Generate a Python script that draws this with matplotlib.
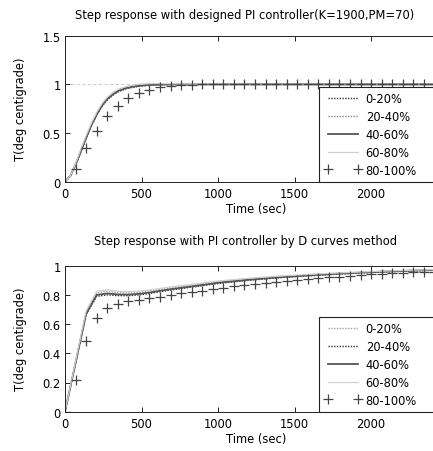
import numpy as np
import matplotlib
matplotlib.use("Agg")
import matplotlib.pyplot as plt
from matplotlib.ticker import FormatStrFormatter

plt.rcParams['font.family'] = ['DejaVu Sans']

labels = ["0-20%", "20-40%", "40-60%", "60-80%", "80-100%"]

# ---------- top panel: designed PI controller ----------
t_top = [0, 35, 70, 105, 140, 175, 210, 245, 280, 315, 350, 400, 450, 500,
         550, 600, 700, 800, 1000, 1500, 2500]
top_0_20 = [0, 0.06, 0.17, 0.31, 0.45, 0.58, 0.69, 0.78, 0.845, 0.89, 0.925,
            0.955, 0.972, 0.983, 0.99, 0.995, 0.999, 1.0, 1.0, 1.0, 1.0]
top_20_40 = [0, 0.06, 0.18, 0.32, 0.46, 0.59, 0.70, 0.79, 0.85, 0.895, 0.93,
             0.96, 0.976, 0.986, 0.992, 0.996, 1.0, 1.0, 1.0, 1.0, 1.0]
top_40_60 = [0, 0.06, 0.18, 0.32, 0.46, 0.59, 0.70, 0.79, 0.855, 0.90, 0.935,
             0.962, 0.978, 0.988, 0.994, 0.997, 1.0, 1.0, 1.0, 1.0, 1.0]
top_60_80 = [0, 0.06, 0.19, 0.34, 0.48, 0.61, 0.72, 0.81, 0.875, 0.92, 0.952,
             0.978, 0.995, 1.004, 1.008, 1.009, 1.007, 1.004, 1.001, 1.0, 1.0]
t_mark = [0, 69, 138, 207, 276, 345, 414, 483, 552, 621, 690, 759, 828, 897,
          966, 1035, 1104, 1173, 1242, 1311, 1380, 1449, 1518, 1587, 1656,
          1725, 1794, 1863, 1932, 2001, 2070, 2139, 2208, 2277, 2346, 2415, 2484]
top_80_100 = [0, 0.135, 0.345, 0.525, 0.67, 0.78, 0.855, 0.91, 0.945, 0.968,
              0.983, 0.993, 0.998, 1.0, 1.0, 1.0, 1.0, 1.0, 1.0, 1.0, 1.0,
              1.0, 1.0, 1.0, 1.0, 1.0, 1.0, 1.0, 1.0, 1.0, 1.0, 1.0, 1.0,
              1.0, 1.0, 1.0, 1.0]
setpoint = 1.0

# ---------- bottom panel: D curves method ----------
t_bot = [0, 69, 138, 207, 276, 345, 414, 483, 552, 621, 690, 828, 1000, 1200,
         1400, 1600, 1800, 2000, 2200, 2400, 2500]
bot_0_20 = [0, 0.34, 0.68, 0.815, 0.825, 0.815, 0.813, 0.818, 0.827, 0.838,
            0.848, 0.866, 0.89, 0.91, 0.925, 0.938, 0.949, 0.958, 0.965, 0.972, 0.975]
bot_20_40 = [0, 0.33, 0.665, 0.79, 0.80, 0.795, 0.795, 0.80, 0.81, 0.822,
             0.833, 0.853, 0.878, 0.90, 0.917, 0.931, 0.943, 0.953, 0.961, 0.968, 0.971]
bot_40_60 = [0, 0.335, 0.67, 0.80, 0.81, 0.803, 0.802, 0.807, 0.816, 0.828,
             0.839, 0.858, 0.883, 0.904, 0.921, 0.934, 0.946, 0.956, 0.964, 0.971, 0.974]
bot_60_80 = [0, 0.345, 0.69, 0.825, 0.835, 0.825, 0.822, 0.826, 0.834, 0.845,
             0.855, 0.872, 0.895, 0.914, 0.929, 0.941, 0.951, 0.960, 0.967, 0.973, 0.976]
bot_80_100 = [0, 0.217, 0.486, 0.645, 0.71, 0.737, 0.755, 0.766, 0.777, 0.788,
              0.799, 0.81, 0.82, 0.83, 0.84, 0.85, 0.858, 0.866, 0.874, 0.882,
              0.889, 0.896, 0.903, 0.91, 0.916, 0.921, 0.926, 0.931, 0.936,
              0.94, 0.944, 0.948, 0.951, 0.954, 0.957, 0.96, 0.962]

W, H = 433, 452
fig = plt.figure(figsize=(W / 100, H / 100), dpi=100)

ax_w = 382.5 / W
ax1 = fig.add_axes([65 / W, 1 - 182.7 / H, ax_w, (182.7 - 36.7) / H])
ax2 = fig.add_axes([65 / W, 1 - 412.7 / H, ax_w, (412.7 - 266.7) / H])

FS = 8.3
edge = '#222222'
tcol = '#000000'

def style(ax, ylim, yticks):
    ax.set_xlim(0, 2500)
    ax.set_ylim(*ylim)
    ax.set_xticks([0, 500, 1000, 1500, 2000])
    ax.set_yticks(yticks)
    ax.yaxis.set_major_formatter(FormatStrFormatter('%g'))
    ax.tick_params(direction='in', length=3.5, width=0.6, top=True, right=True,
                   labelsize=FS, colors=tcol, pad=3)
    ax.tick_params(axis='x', pad=4)
    for s in ax.spines.values():
        s.set_color(edge)
        s.set_linewidth(0.7)
    ax.set_xlabel('Time (sec)', fontsize=FS, labelpad=1, color=tcol)
    ax.set_ylabel('T(deg centigrade)', fontsize=FS, labelpad=11, color=tcol)

def legend(ax, handles):
    x0 = (319 - 65) / 382.5
    leg = ax.legend(handles, labels, loc='lower left',
                    bbox_to_anchor=(x0, 0, 1.3 - x0, 0.5),
                    mode='expand', fontsize=FS, numpoints=2, handlelength=3.2,
                    handletextpad=0.4, borderpad=0.45, labelspacing=0.42,
                    borderaxespad=0, fancybox=False, framealpha=1)
    leg.get_frame().set_edgecolor(edge)
    leg.get_frame().set_linewidth(0.8)

# top
ax1.axhline(setpoint, color='#cfcfcf', lw=0.8, ls=(0, (3, 2)), zorder=1)
h1 = []
h1 += ax1.plot(t_top, top_0_20, color='#333333', lw=1.0, ls=(0, (1, 1)))
h1 += ax1.plot(t_top, top_20_40, color='#888888', lw=1.0, ls=(0, (1, 1)))
h1 += ax1.plot(t_top, top_40_60, color='#555555', lw=1.3, ls='-')
h1 += ax1.plot(t_top, top_60_80, color='#d0d0d0', lw=0.9, ls='-')
h1 += ax1.plot(t_mark, top_80_100, ls='none', marker='+', ms=7, mew=0.9, color='#444444')
style(ax1, (0, 1.5), [0, 0.5, 1, 1.5])
legend(ax1, h1)
fig.text(245 / W, 1 - 15 / H, 'Step response with designed PI controller(K=1900,PM=70)',
         ha='center', va='center', fontsize=FS, color=tcol)

# bottom
h2 = []
h2 += ax2.plot(t_bot, bot_0_20, color='#a0a0a0', lw=1.0, ls=(0, (1, 1)))
h2 += ax2.plot(t_bot, bot_20_40, color='#333333', lw=1.0, ls=(0, (1, 1)))
h2 += ax2.plot(t_bot, bot_40_60, color='#555555', lw=1.3, ls='-')
h2 += ax2.plot(t_bot, bot_60_80, color='#d0d0d0', lw=0.9, ls='-')
h2 += ax2.plot(t_mark, bot_80_100, ls='none', marker='+', ms=7, mew=0.9, color='#444444')
style(ax2, (0, 1), [0, 0.2, 0.4, 0.6, 0.8, 1])
legend(ax2, h2)
fig.text(245 / W, 1 - 242 / H, 'Step response with PI controller by D curves method',
         ha='center', va='center', fontsize=FS, color=tcol)

fig.savefig('out.png', dpi=100)
